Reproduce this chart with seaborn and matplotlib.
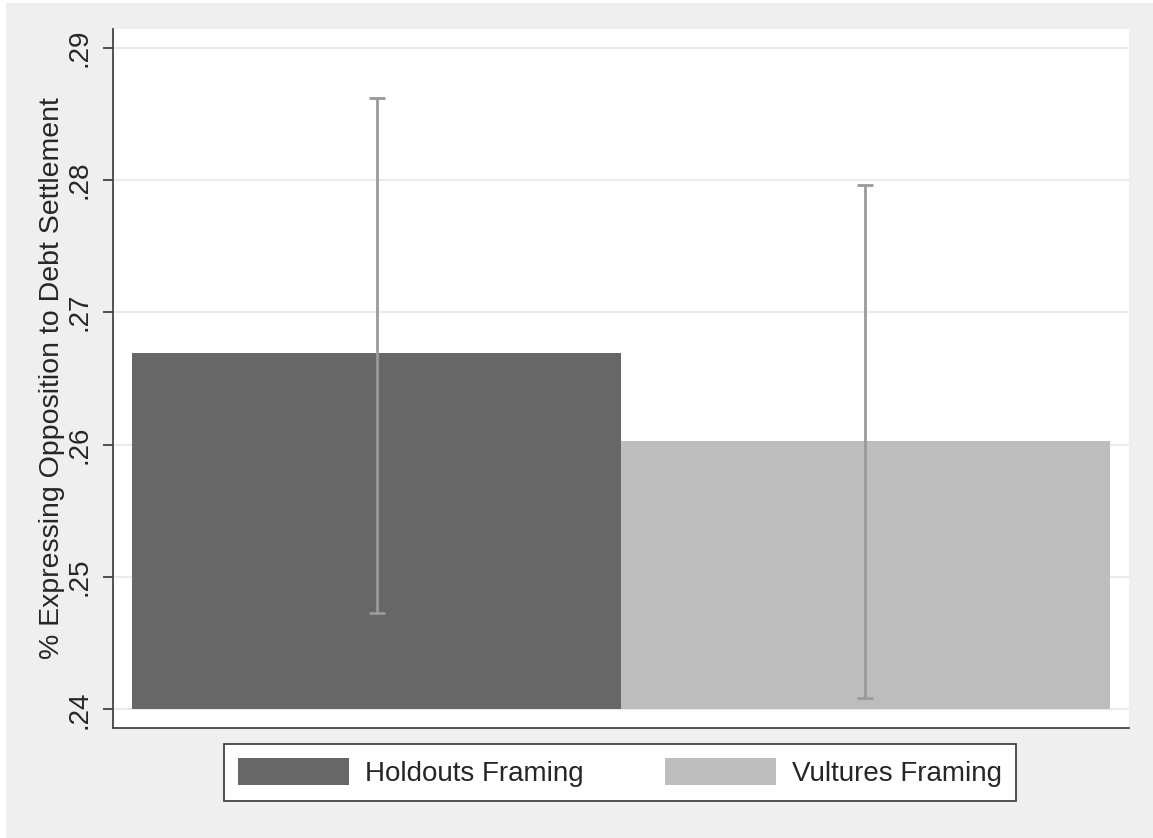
import numpy as np
import pandas as pd
import matplotlib
matplotlib.use("Agg")
import matplotlib.pyplot as plt
from matplotlib.patches import Patch, Rectangle
import seaborn as sns

# values
framing = ["Holdouts Framing", "Vultures Framing"]
pct_oppose = [0.2669, 0.2603]
ci_low = [0.2473, 0.2409]
ci_high = [0.2862, 0.2796]
bar_colors = ["#676767", "#BDBDBD"]
yticks = [0.24, 0.25, 0.26, 0.27, 0.28, 0.29]
ytick_labels = [".24", ".25", ".26", ".27", ".28", ".29"]
baseline = 0.24

sns.set_style("white")
plt.rcParams["font.family"] = ["Liberation Sans", "DejaVu Sans"]

df = pd.DataFrame({"framing": framing, "pct": pct_oppose})

fig = plt.figure(figsize=(11.53, 8.38), dpi=100, facecolor="white")
fig.patches.append(Rectangle((6 / 1153, 0), 1, 1 - 3 / 838, transform=fig.transFigure,
                             facecolor="#EFEFEF", edgecolor="none", zorder=-10))
ax = fig.add_axes([113 / 1153, 1 - 728 / 838, (1129 - 113) / 1153, (728 - 29) / 838])
ax.set_facecolor("white")

sns.barplot(data=df, x="framing", y="pct", hue="framing", palette=bar_colors,
            width=1, saturation=1, legend=False, ax=ax, zorder=2)

# bars start at the axis floor, like the Stata original
for p in ax.patches:
    h = p.get_height()
    p.set_y(baseline)
    p.set_height(h - baseline)
    p.set_edgecolor("none")

means = np.array(pct_oppose)
yerr = [means - np.array(ci_low), np.array(ci_high) - means]
ax.errorbar(x=np.arange(len(framing)), y=means, yerr=yerr, fmt="none",
            ecolor="#9A9A9A", elinewidth=2, capsize=6, capthick=2, zorder=3)

ax.set_xlim(-0.539, 1.539)
ax.set_ylim(0.2386, 0.2914)
ax.set_yticks(yticks)
ax.set_yticklabels(ytick_labels, rotation=90, va="center", fontsize=20)
ax.set_xticks([])
ax.set_xlabel("")
ax.set_ylabel("% Expressing Opposition to Debt Settlement", fontsize=20.5, labelpad=1)
ax.yaxis.grid(True, color="#EAEAEA", linewidth=1.5, zorder=0)
ax.set_axisbelow(True)
ax.tick_params(axis="y", direction="out", length=7, width=1.2, color="#333333",
               left=True, pad=8)
for side in ["top", "right"]:
    ax.spines[side].set_visible(False)
for side in ["left", "bottom"]:
    ax.spines[side].set_color("#444444")
    ax.spines[side].set_linewidth(1.3)

handles = [Patch(facecolor=c, edgecolor="none") for c in bar_colors]
leg = fig.legend(handles, framing, loc="center", bbox_to_anchor=(0.5377, 0.0782),
                 ncol=2, fontsize=20, frameon=True, fancybox=False,
                 handlelength=4.0, handleheight=1.1, handletextpad=0.6,
                 columnspacing=2.9, borderpad=0.5)
leg.get_frame().set_edgecolor("#444444")
leg.get_frame().set_linewidth(1.3)
leg.get_frame().set_facecolor("white")
leg.get_frame().set_alpha(1)

fig.savefig("out.png", dpi=100, facecolor=fig.get_facecolor())
